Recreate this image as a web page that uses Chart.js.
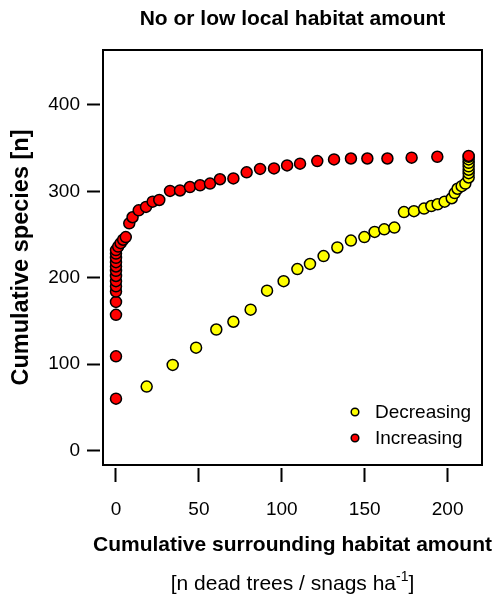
<!DOCTYPE html>
<html><head><meta charset="utf-8">
<script src="https://cdn.jsdelivr.net/npm/chart.js@4.4.0/dist/chart.umd.min.js"></script>
<style>html,body{margin:0;padding:0;background:#fff}#wrap{width:500px;height:598px}</style>
</head><body><div id="wrap"><canvas id="c" width="500" height="598"></canvas></div>
<script>
const titleText = "No or low local habitat amount";
const xTitle = "Cumulative surrounding habitat amount";
const xSubTitle = "[n dead trees / snags ha";
const xSubSup = "-1";
const xSubEnd = "]";
const yTitle = "Cumulative species [n]";
const seriesNames = ["Decreasing", "Increasing"];
const xTicks = [0, 50, 100, 150, 200];
const yTicks = [0, 100, 200, 300, 400];

const decX = [18.5, 34.2, 48.3, 60.5, 70.8, 81.2, 91.1, 101.1, 109.4, 117, 125.2, 133.5, 141.7, 149.8, 156, 161.8, 167.9, 173.7, 179.7, 185.8, 190.2, 194, 198.2, 202.5, 204.3, 206, 208.5, 210.7, 212.7, 212.7, 212.7, 212.7, 212.7, 212.7, 212.7];
const decY = [74, 99, 119, 140, 149, 163, 185, 196, 210, 216, 225, 235, 243, 247, 253, 256, 258, 276, 277, 280, 283, 285, 288, 292, 298, 303, 306, 309, 316, 321, 325, 329, 333, 337, 340];

const incX = [0, 0, 0, 0, 0, 0, 0, 0, 0, 0, 0, 0, 0, 0, 1.3, 2.8, 4.3, 5.9, 8, 10, 13.7, 18.1, 22.1, 26.1, 32.6, 38.6, 44.6, 50.7, 56.7, 62.7, 70.8, 78.8, 86.9, 95.3, 103.2, 111, 121.4, 131.5, 141.7, 151.6, 163.7, 178.3, 193.8, 212.7];
const incY = [60, 109, 157, 172, 184, 190, 196, 202, 208, 213, 218, 223, 228, 232, 236, 240, 244, 247, 263, 270, 278, 282, 288, 290, 300.5, 301, 305, 307, 309, 314, 315, 322, 326, 326.5, 330, 332, 335, 337, 338, 338, 338, 339, 340, 341];

const FONT = "'Liberation Sans', Arial, sans-serif";
const YELLOW = '#ffff00', RED = '#ff0000';

const overlay = {
  id: 'overlay',
  afterDraw(chart) {
    const ctx = chart.ctx, a = chart.chartArea;
    ctx.save();
    // box
    ctx.strokeStyle = '#000'; ctx.lineWidth = 2;
    ctx.strokeRect(a.left + 3, a.top + 3, (a.right - a.left) - 6, (a.bottom - a.top) - 6);
    const cx = (a.left + a.right) / 2;
    ctx.fillStyle = '#000';
    ctx.textAlign = 'center'; ctx.textBaseline = 'middle';
    ctx.font = "bold 21px " + FONT;
    ctx.fillText(titleText, cx, 19);
    ctx.fillText(xTitle, cx, 545);
    // subtitle with superscript
    ctx.font = "21px " + FONT;
    const w1 = ctx.measureText(xSubTitle).width;
    const w3 = ctx.measureText(xSubEnd).width;
    ctx.font = "14px " + FONT;
    const w2 = ctx.measureText(xSubSup).width;
    let sx = cx - (w1 + w2 + w3) / 2;
    ctx.textAlign = 'left';
    ctx.font = "21px " + FONT;
    ctx.fillText(xSubTitle, sx, 584);
    ctx.font = "14px " + FONT;
    ctx.fillText(xSubSup, sx + w1, 577);
    ctx.font = "21px " + FONT;
    ctx.fillText(xSubEnd, sx + w1 + w2, 584);
    // y title
    ctx.save();
    ctx.translate(22, (a.top + a.bottom) / 2);
    ctx.rotate(-Math.PI / 2);
    ctx.textAlign = 'center';
    ctx.font = "bold 23.5px " + FONT;
    ctx.fillText(yTitle, 0, 0);
    ctx.restore();
    // legend
    const cols = [YELLOW, RED];
    const ly = [412, 438];
    for (let i = 0; i < 2; i++) {
      ctx.beginPath();
      ctx.arc(355, ly[i], 3.8, 0, Math.PI * 2);
      ctx.fillStyle = cols[i]; ctx.fill();
      ctx.lineWidth = 1.5; ctx.strokeStyle = '#000'; ctx.stroke();
      ctx.fillStyle = '#000';
      ctx.font = "19px " + FONT;
      ctx.textAlign = 'left'; ctx.textBaseline = 'middle';
      ctx.fillText(seriesNames[i], 375, ly[i] + 1);
    }
    ctx.restore();
  }
};

const pts = (xs, ys) => xs.map((x, i) => ({ x: x, y: ys[i] }));

new Chart(document.getElementById('c'), {
  type: 'scatter',
  data: {
    datasets: [
      { label: seriesNames[1], data: pts(incX, incY), backgroundColor: RED, borderColor: '#000', borderWidth: 1.5, pointRadius: 5.5 },
      { label: seriesNames[0], data: pts(decX, decY), backgroundColor: YELLOW, borderColor: '#000', borderWidth: 1.5, pointRadius: 5.5 }
    ]
  },
  options: {
    responsive: false,
    animation: false,
    layout: { padding: { top: 47, right: 15, left: 0, bottom: 0 } },
    plugins: { legend: { display: false }, tooltip: { enabled: false }, title: { display: false } },
    scales: {
      x: {
        type: 'linear', min: -9.65, max: 222.56,
        afterBuildTicks: s => { s.ticks = xTicks.map(v => ({ value: v })); },
        afterFit: s => { s.height = 130; },
        grid: { display: true, drawOnChartArea: false, drawTicks: true, tickLength: 14, tickWidth: 2, tickColor: '#000' },
        border: { display: false },
        ticks: { color: '#000', font: { family: FONT, size: 19 }, padding: 16, maxRotation: 0, autoSkip: false }
      },
      y: {
        type: 'linear', min: -20.3, max: 467.1,
        afterBuildTicks: s => { s.ticks = yTicks.map(v => ({ value: v })); },
        afterFit: s => { s.width = 100; },
        grid: { display: true, drawOnChartArea: false, drawTicks: true, tickLength: 13, tickWidth: 2, tickColor: '#000' },
        border: { display: false },
        ticks: { color: '#000', font: { family: FONT, size: 19 }, padding: 7, autoSkip: false }
      }
    }
  },
  plugins: [overlay]
});
</script>
</body></html>
